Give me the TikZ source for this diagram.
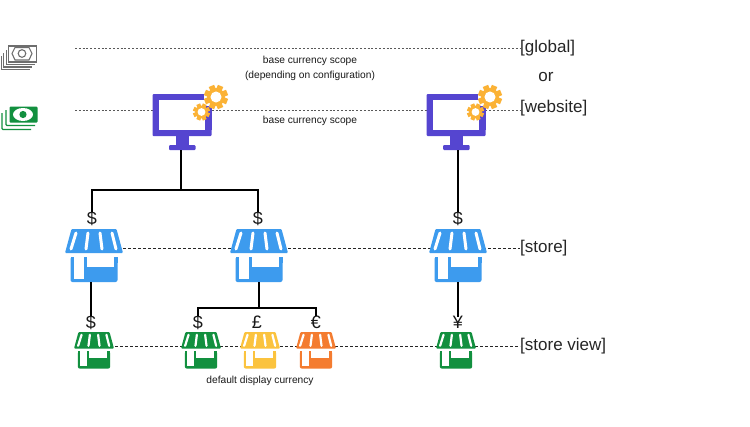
\documentclass[tikz,border=0pt]{standalone}
\usepackage{fontspec}
\setmainfont{Liberation Sans}
\definecolor{cPurple}{HTML}{5545D0}
\definecolor{cGear}{HTML}{FBB235}
\definecolor{cBlue}{HTML}{3D9BEE}
\definecolor{cGreen}{HTML}{12903F}
\definecolor{cYellow}{HTML}{FBC33E}
\definecolor{cOrange}{HTML}{F47C30}
\definecolor{cGrayM}{HTML}{6E6E6E}
\def\stripew{3pt}
\tikzset{
  x=1pt,y=-1pt,
  iconbox/.style={inner sep=0pt,outer sep=0pt,minimum width=#1},
  levelline/.style={line width=0.9pt,dash pattern=on 2.8pt off 2.2pt,black!85},
  scopeline/.style={line width=1pt,dash pattern=on 1.9pt off 1.9pt,black!65},
  conn/.style={line width=1.6pt,black},
  lbl/.style={font=\fontsize{17}{20}\selectfont,anchor=west,inner sep=0pt,text=black!85},
  note/.style={font=\fontsize{10.2}{12}\selectfont,inner sep=0pt,text=black!90},
  cur/.style={font=\fontsize{18}{20}\selectfont,inner sep=0pt,text=black!90},
  pics/shop/.style={code={
    \fill[#1,rounded corners=1pt] (-22.5,0) -- (22.5,0) -- (29,24) -- (-29,24) -- cycle;
    \foreach \a/\b in {-18/-23,-6/-8,6/8,18/22}
      \draw[white,line width=\stripew,line cap=round] (\a,4) -- (\b,20);
    \fill[#1,rounded corners=2pt] (-23.5,28) rectangle (23.5,53);
    \fill[#1] (-23.5,28) rectangle (23.5,34);
    \fill[white] (-20,28) rectangle (-10,49.5);
    \fill[white] (-6.7,28) rectangle (19.5,38);
  }},
  pics/gear/.style={code={
    \fill[cGear] foreach \k in {0,45,...,315} {
      [rotate=\k+22.5] (-#1*0.24,-#1) rectangle (#1*0.24,#1)
    };
    \fill[cGear] (0,0) circle[radius=#1*0.74];
    \fill[white] (0,0) circle[radius=#1*0.46];
  }},
  pics/monitor/.style={code={
    \fill[cPurple,rounded corners=1pt] (-29.5,-28) rectangle (29.5,14);
    \fill[white] (-23,-22) rectangle (23,8);
    \fill[cPurple] (-6.5,14) rectangle (7,23);
    \fill[cPurple,rounded corners=1pt] (-13,23) rectangle (13.5,28);
    \fill[white] (22,-30) rectangle (32,-16);
    \fill[cPurple] (24,-15) rectangle (29.5,8);
    \pic at (34,-25) {gear=12};
    \pic at (19.5,-10) {gear=8.5};
  }}
}
\begin{document}
\begin{tikzpicture}
\useasboundingbox (0,0) rectangle (750,426);
\fill[white] (0,0) rectangle (750,426);

% scope and level lines
\coordinate (g0) at (75,48); \coordinate (w0) at (75,110);
\node[lbl] (lglobal) at (520,48) {[global]};
\node[lbl] (lwebsite) at (520,108.5) {[website]};
\node[lbl] (lstore) at (520,248) {[store]};
\node[lbl] (lview) at (520,346) {[store view]};
\node[font=\fontsize{17}{20}\selectfont,inner sep=0pt,text=black!85] (lor) at (546,77) {or};
\draw[scopeline] (g0) -- (lglobal.west |- g0);
\draw[scopeline] (w0) -- (lwebsite.west |- w0);
\coordinate (s0) at (123,248); \coordinate (v0) at (110,346);
\draw[levelline] (s0) -- (lstore.west |- s0);
\draw[levelline] (v0) -- (lview.west |- v0);

% icon anchors
\node[iconbox=59pt,minimum height=56pt] (m1) at (182,122) {};
\node[iconbox=59pt,minimum height=56pt] (m2) at (456,122) {};
\node[iconbox=58pt,minimum height=53pt] (s1) at (94,255.5) {};
\node[iconbox=58pt,minimum height=53pt] (s2) at (259,255.5) {};
\node[iconbox=58pt,minimum height=53pt] (s3) at (458,255.5) {};
\node[iconbox=40pt,minimum height=37pt] (v1) at (94,350.5) {};
\node[iconbox=40pt,minimum height=37pt] (v2) at (201,350.5) {};
\node[iconbox=40pt,minimum height=37pt] (v3) at (260,350.5) {};
\node[iconbox=40pt,minimum height=37pt] (v4) at (316,350.5) {};
\node[iconbox=40pt,minimum height=37pt] (v5) at (456,350.5) {};

\pic at (m1) {monitor};
\pic at (m2) {monitor};
\pic at (s1.north) {shop=cBlue};
\pic at (s2.north) {shop=cBlue};
\pic at (s3.north) {shop=cBlue};
\begin{scope}[every pic/.style={scale=0.69}]
\def\stripew{2.2pt}
\pic at (v1.north) {shop=cGreen};
\pic at (v2.north) {shop=cGreen};
\pic at (v3.north) {shop=cYellow};
\pic at (v4.north) {shop=cOrange};
\pic at (v5.north) {shop=cGreen};
\end{scope}

% currency symbols
\node[cur] (ds1) at (92,218) {\$};
\node[cur] (ds2) at (258,218) {\$};
\node[cur] (ds3) at (458,218) {\$};
\node[cur] (dv1) at (91,322) {\$};
\node[cur] (dv2) at (198,322) {\$};
\node[cur] (dv3) at (257,322) {£};
\node[cur] (dv4) at (316,322) {€};
\node[cur] (dv5) at (458,322) {¥};

% connectors
\coordinate (j1) at (181,190);
\coordinate (j2) at (259,308);
\draw[conn] (m1.south) ++(-1,0) -- (j1);
\draw[conn] ([yshift=-1pt]ds1.north) |- (j1) -| ([yshift=-1pt]ds2.north);
\draw[conn] ([yshift=-1pt]ds3.north) -- (ds3.north |- m2.south);
\draw[conn] ([yshift=-1pt]dv1.north) -- (dv1.north |- s1.south);
\draw[conn] (s2.south) -- (j2);
\draw[conn] ([yshift=-1pt]dv2.north) |- (j2) -| ([yshift=-1pt]dv4.north);
\draw[conn] ([yshift=-1pt]dv5.north) -- (dv5.north |- s3.south);

% notes
\node[note] (n1) at (310,61) {base currency scope};
\node[note] (n2) at (310,76) {(depending on configuration)};
\node[note] (n3) at (310,120.5) {base currency scope};
\node[note] (n4) at (260,381) {default display currency};

% gray money stack
\draw[cGrayM,line width=1.1pt] (8.5,46) rectangle (36.5,62);
\draw[cGrayM,line width=1.1pt] (15,47.5) -- (29,47.5) -- (32,53.5) -- (29,60) -- (15,60) -- (12,53.5) -- cycle;
\draw[cGrayM,line width=1.1pt] (22,53.5) circle[radius=3.8];
\draw[cGrayM,line width=1.1pt] (6.3,50) -- (6.3,64.5) -- (34.5,64.5);
\draw[cGrayM,line width=1.1pt] (3.8,53) -- (3.8,67) -- (32,67);
\draw[cGrayM,line width=1.1pt] (1.2,56) -- (1.2,69.5) -- (30,69.5);

% green money stack
\fill[cGreen,rounded corners=1pt] (9.5,106.5) rectangle (37.5,122.5);
\fill[white] (23,114.5) ellipse[x radius=10,y radius=6.5];
\fill[cGreen] (23,114.5) circle[radius=3.6];
\draw[cGreen,line width=1.4pt,rounded corners=1pt] (6,110) -- (6,125.5) -- (35,125.5);
\draw[cGreen,line width=1.4pt,rounded corners=1pt] (2,113) -- (2,129.5) -- (31,129.5);
\end{tikzpicture}
\end{document}
